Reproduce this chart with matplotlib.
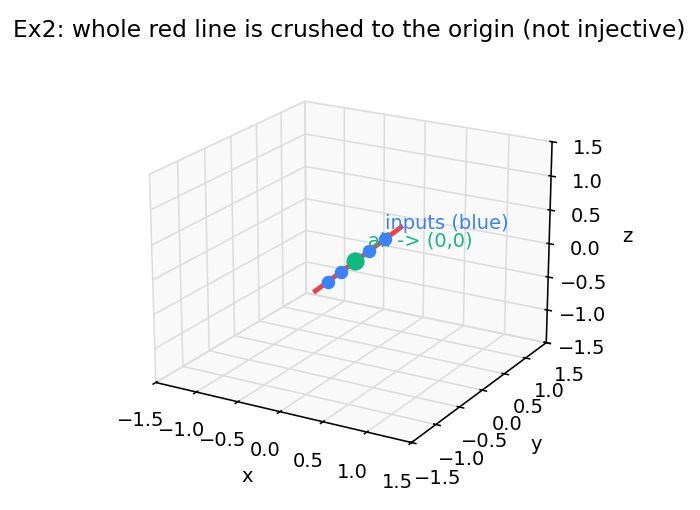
import numpy as np
import matplotlib
matplotlib.use("Agg")
import matplotlib.pyplot as plt

direction = [1.0, -1.0, 1.05]
line_t = [-1.2, 1.2]
input_t = [-0.8, -0.4, 0.4, 0.8]
origin = [0.0, 0.0, 0.0]
green_label_pos = [0.1, 0.1, 0.2]
axis_ticks = [-1.5, -1.0, -0.5, 0.0, 0.5, 1.0, 1.5]

d = np.array(direction)
fig = plt.figure(figsize=(5, 3.643), dpi=140)
ax = fig.add_axes([0.1764, 0.0333, 0.644, 0.884], projection='3d')
ax.view_init(elev=20, azim=-60)
for axis in (ax.xaxis, ax.yaxis, ax.zaxis):
    axis._axinfo['grid']['color'] = '#dcdcdc'
    axis._axinfo['grid']['linewidth'] = 0.8
    axis.set_pane_color((0.96, 0.96, 0.96, 0.5))
lt = np.array(line_t)
ax.plot(lt * d[0], lt * d[1], lt * d[2], color='#e8434a', lw=2.5)
it = np.array(input_t)
ax.scatter(it * d[0], it * d[1], it * d[2], color='#3b82f6', s=35, depthshade=False, alpha=1)
ax.scatter([origin[0]], [origin[1]], [origin[2]], color='#10b981', s=70, depthshade=False, alpha=1)
p = it[-1] * d
ax.text(p[0], p[1], p[2] + 0.15, "inputs (blue)", color='#3b82f6')
ax.text(*green_label_pos, "all -> (0,0)", color='#10b981')
ax.set_xlim(-1.5, 1.5); ax.set_ylim(-1.5, 1.5); ax.set_zlim(-1.5, 1.5)
ax.set_xticks(axis_ticks); ax.set_yticks(axis_ticks); ax.set_zticks(axis_ticks)
ax.set_xlabel('x'); ax.set_ylabel('y'); ax.set_zlabel('z')
ax.set_title("Ex2: whole red line is crushed to the origin (not injective)", pad=1)
fig.savefig('out.png')
